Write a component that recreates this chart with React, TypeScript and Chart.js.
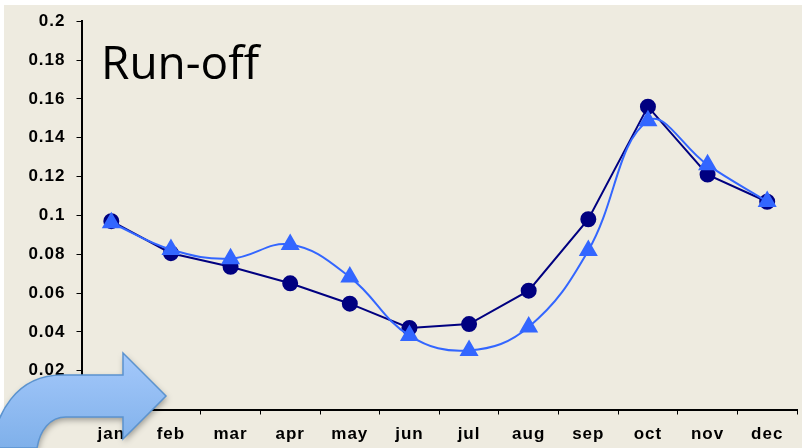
import React, { useEffect, useRef } from "react";
import { Chart, registerables } from "chart.js";

Chart.register(...registerables);

const months = ["jan", "feb", "mar", "apr", "may", "jun", "jul", "aug", "sep", "oct", "nov", "dec"];
const observed = [0.097, 0.0805, 0.0735, 0.065, 0.0545, 0.042, 0.044, 0.0612, 0.098, 0.156, 0.121, 0.107];
const modelled = [0.0962, 0.0824, 0.0777, 0.085, 0.0682, 0.0381, 0.0304, 0.0425, 0.0819, 0.1487, 0.126, 0.1071];
const titleText = "Run-off";

const backdrop = {
  id: "backdrop",
  beforeDraw(chart: any) {
    const { ctx, width, height } = chart;
    ctx.save();
    ctx.fillStyle = "#eeebe0";
    ctx.fillRect(4, 5, width - 4, height - 5);
    ctx.restore();
    ctx.letterSpacing = "1px";
  },
};

const decor = {
  id: "decor",
  afterDraw(chart: any) {
    const { ctx } = chart;
    ctx.letterSpacing = "0px";
    ctx.save();
    ctx.fillStyle = "#000000";
    ctx.font = '46px "Open Sans"';
    ctx.textBaseline = "alphabetic";
    ctx.fillText(titleText, 101, 79);

    const g = ctx.createLinearGradient(0, 352, 0, 448);
    g.addColorStop(0, "#a5c9fb");
    g.addColorStop(1, "#7fb0ea");
    ctx.beginPath();
    ctx.moveTo(-8, 448);
    ctx.bezierCurveTo(-4, 415, 15, 375, 62, 375);
    ctx.lineTo(123, 375);
    ctx.lineTo(123, 353);
    ctx.lineTo(166, 396);
    ctx.lineTo(123, 439);
    ctx.lineTo(123, 417);
    ctx.lineTo(66, 417);
    ctx.bezierCurveTo(50, 417, 40, 430, 37, 448);
    ctx.closePath();
    ctx.shadowColor = "rgba(0,0,0,0.35)";
    ctx.shadowBlur = 6;
    ctx.shadowOffsetX = 1;
    ctx.shadowOffsetY = 3;
    ctx.fillStyle = g;
    ctx.fill();
    ctx.shadowColor = "transparent";
    ctx.strokeStyle = "#5b93cf";
    ctx.lineWidth = 1.5;
    ctx.stroke();
    ctx.restore();
  },
};

export default function App() {
  const ref = useRef<HTMLCanvasElement>(null);
  useEffect(() => {
    const chart = new Chart(ref.current!, {
      type: "line",
      data: {
        labels: months,
        datasets: [
          {
            label: "modelled",
            data: modelled,
            borderColor: "#3366ff",
            backgroundColor: "#3366ff",
            borderWidth: 2,
            tension: 0.4,
            pointStyle: "triangle",
            pointRadius: 9,
            order: 1,
            clip: false,
          },
          {
            label: "observed",
            data: observed,
            borderColor: "#000080",
            backgroundColor: "#000080",
            borderWidth: 2,
            tension: 0,
            pointStyle: "circle",
            pointRadius: 7,
            order: 2,
            clip: false,
          },
        ],
      },
      options: {
        responsive: false,
        animation: false,
        layout: { padding: { top: 21, right: 5, left: 0, bottom: 0 } },
        plugins: { legend: { display: false }, tooltip: { enabled: false } },
        scales: {
          x: {
            offset: true,
            grid: { drawOnChartArea: false, offset: true, tickLength: 5, color: "#000" },
            border: { color: "#000", width: 2 },
            ticks: {
              color: "#000",
              padding: 10,
              maxRotation: 0,
              autoSkip: false,
              font: { family: '"Liberation Sans"', size: 17, weight: "bold" },
            },
            afterFit(s: any) {
              s.height = 38.5;
              s.paddingLeft = 0;
              s.paddingRight = 0;
            },
          },
          y: {
            min: 0,
            max: 0.2,
            grid: { drawOnChartArea: false, tickLength: 5, color: "#000" },
            border: { color: "#000", width: 2 },
            ticks: {
              stepSize: 0.02,
              color: "#000",
              padding: 11,
              callback: (v: any) => String(Math.round(Number(v) * 100) / 100),
              font: { family: '"Liberation Sans"', size: 17, weight: "bold" },
            },
            afterFit(s: any) {
              s.width = 81.5;
            },
          },
        },
      },
      plugins: [backdrop, decor],
    } as any);
    return () => chart.destroy();
  }, []);
  return (
    <div style={{ position: "fixed", left: 0, top: 0, width: 802, height: 448, background: "#fff", overflow: "hidden" }}>
      <canvas ref={ref} width={808} height={448} style={{ display: "block" }} />
    </div>
  );
}
